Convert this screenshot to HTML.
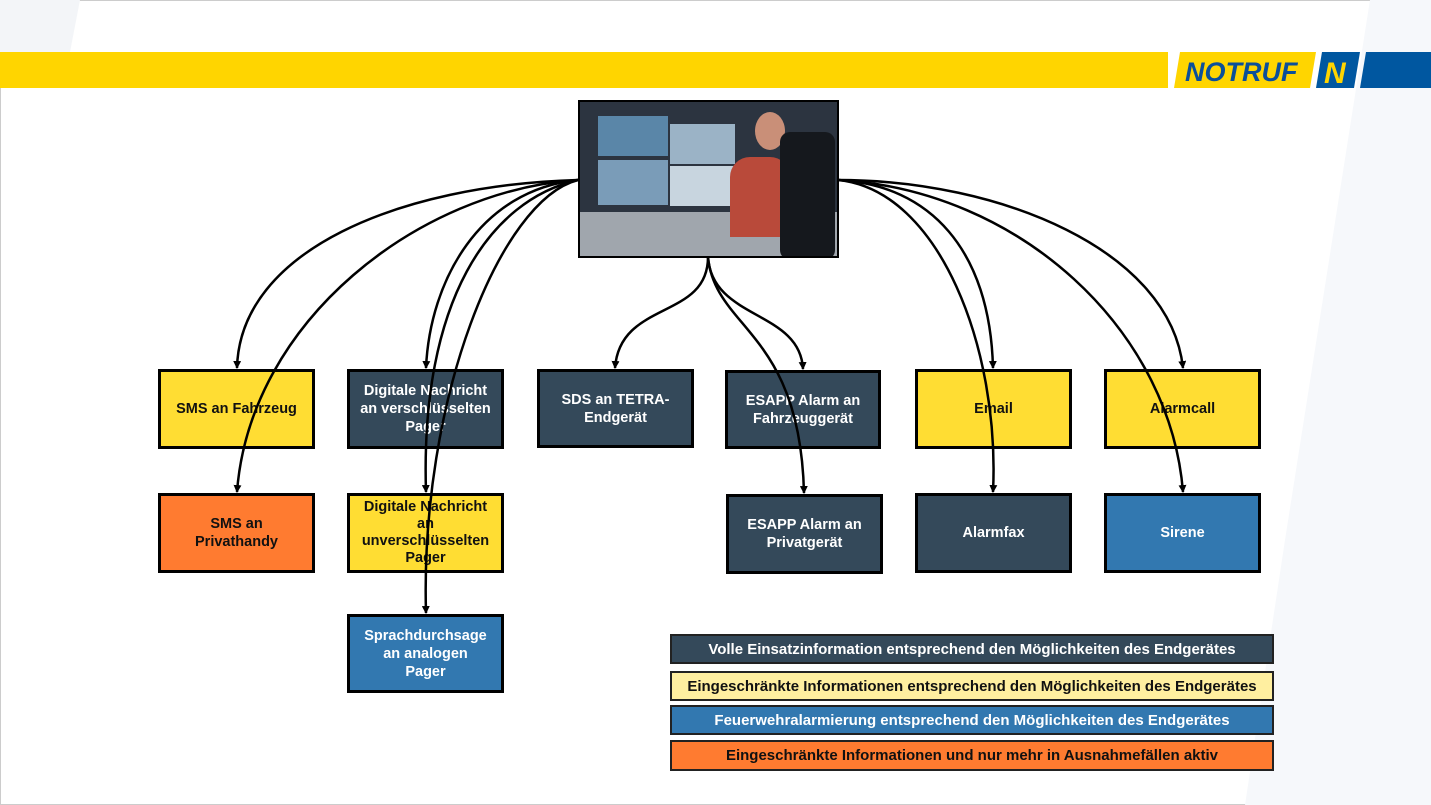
<!DOCTYPE html>
<html><head><meta charset="utf-8"><style>
*{margin:0;padding:0;box-sizing:border-box}
body{width:1431px;height:805px;position:relative;background:#fff;font-family:"Liberation Sans",sans-serif;overflow:hidden}
.b{position:absolute;border:3px solid #000;display:flex;align-items:center;justify-content:center;text-align:center;font-weight:bold;font-size:14.5px;line-height:18px;padding:0 3px}
.y{background:#FFDD33;color:#111}.d{background:#34495A;color:#fff}.bl{background:#3278B0;color:#fff}.o{background:#FF7B30;color:#111}
.l{position:absolute;left:670px;width:604px;border:2px solid #222;display:flex;align-items:center;justify-content:center;font-weight:bold;font-size:15px}
</style></head><body>
<svg width="1431" height="805" style="position:absolute;left:0;top:0">
<rect x="0.5" y="0.5" width="1430" height="804" fill="none" stroke="#ccc"/>
<polygon points="0,0 80,0 70,52 0,52" fill="#f3f5f8"/>
<polygon points="1370,0 1431,0 1431,805 1245,805 1285,540" fill="#f6f8fb"/>
<rect x="0" y="52" width="1168" height="36" fill="#FFD500"/>
<polygon points="1180,52 1316,52 1310,88 1174,88" fill="#FFD500"/>
<polygon points="1322,52 1360,52 1354,88 1316,88" fill="#0057A0"/>
<polygon points="1366,52 1431,52 1431,88 1360,88" fill="#0057A0"/>
<text x="1185" y="81" font-family="Liberation Sans" font-weight="bold" font-style="italic" font-size="27" fill="#0B4F9A">NOTRUF</text>
<text x="1324" y="83" font-family="Liberation Sans" font-weight="bold" font-style="italic" font-size="30" fill="#FFD500">N</text>
</svg>
<div style="position:absolute;left:578px;top:100px;width:261px;height:158px;border:2px solid #000;background:#2c3440;overflow:hidden">
<div style="position:absolute;left:18px;top:14px;width:70px;height:40px;background:#5a86a8"></div>
<div style="position:absolute;left:90px;top:22px;width:65px;height:40px;background:#9bb3c6"></div>
<div style="position:absolute;left:18px;top:58px;width:70px;height:45px;background:#7a9cb8"></div>
<div style="position:absolute;left:90px;top:64px;width:65px;height:40px;background:#c8d5df"></div>
<div style="position:absolute;left:0;top:110px;width:261px;height:48px;background:#a0a6ad"></div>
<div style="position:absolute;left:150px;top:55px;width:60px;height:80px;background:#b94a3a;border-radius:20px 20px 0 0"></div>
<div style="position:absolute;left:175px;top:10px;width:30px;height:38px;background:#c98f78;border-radius:50%"></div>
<div style="position:absolute;left:200px;top:30px;width:55px;height:128px;background:#15181d;border-radius:10px"></div>
</div>
<div class="b y" style="left:158px;top:369px;width:157px;height:80px">SMS an Fahrzeug</div>
<div class="b d" style="left:347px;top:369px;width:157px;height:80px">Digitale Nachricht<br>an verschlüsselten<br>Pager</div>
<div class="b d" style="left:537px;top:369px;width:157px;height:79px">SDS an TETRA-<br>Endgerät</div>
<div class="b d" style="left:725px;top:370px;width:156px;height:79px">ESAPP Alarm an Fahrzeuggerät</div>
<div class="b y" style="left:915px;top:369px;width:157px;height:80px">Email</div>
<div class="b y" style="left:1104px;top:369px;width:157px;height:80px">Alarmcall</div>
<div class="b o" style="left:158px;top:493px;width:157px;height:80px">SMS an<br>Privathandy</div>
<div class="b y" style="left:347px;top:493px;width:157px;height:80px;line-height:17px">Digitale Nachricht<br>an<br>unverschlüsselten<br>Pager</div>
<div class="b d" style="left:726px;top:494px;width:157px;height:80px">ESAPP Alarm an Privatgerät</div>
<div class="b d" style="left:915px;top:493px;width:157px;height:80px">Alarmfax</div>
<div class="b bl" style="left:1104px;top:493px;width:157px;height:80px">Sirene</div>
<div class="b bl" style="left:347px;top:614px;width:157px;height:79px">Sprachdurchsage<br>an analogen<br>Pager</div>
<div class="l d" style="top:634px;height:30px">Volle Einsatzinformation entsprechend den Möglichkeiten des Endgerätes</div>
<div class="l" style="top:671px;height:30px;background:#FFEFA0;color:#111">Eingeschränkte Informationen entsprechend den Möglichkeiten des Endgerätes</div>
<div class="l bl" style="top:705px;height:30px">Feuerwehralarmierung entsprechend den Möglichkeiten des Endgerätes</div>
<div class="l o" style="top:740px;height:31px">Eingeschränkte Informationen und nur mehr in Ausnahmefällen aktiv</div>
<svg width="1431" height="805" style="position:absolute;left:0;top:0">
<defs><marker id="a" markerWidth="8" markerHeight="8" refX="7" refY="4" orient="auto" markerUnits="userSpaceOnUse"><path d="M0,0 L8,4 L0,8 z" fill="#000"/></marker></defs>
<g fill="none" stroke="#000" stroke-width="2.5" marker-end="url(#a)">
<path d="M578,180 C400,185 240,250 237,368"/>
<path d="M578,180 C420,190 250,320 237,492"/>
<path d="M578,180 C480,190 430,280 426,368"/>
<path d="M578,180 C490,200 420,300 426,492"/>
<path d="M578,180 C500,200 420,400 426,613"/>
<path d="M838,180 C930,185 990,250 993,368"/>
<path d="M838,180 C940,190 1000,350 993,492"/>
<path d="M838,180 C1000,180 1170,250 1183,368"/>
<path d="M838,180 C1020,190 1170,330 1183,492"/>
<path d="M708,257 C708,320 620,300 615,368"/>
<path d="M708,257 C712,320 800,310 803,369"/>
<path d="M708,257 C715,330 800,330 804,493"/>
</g></svg>
</body></html>
